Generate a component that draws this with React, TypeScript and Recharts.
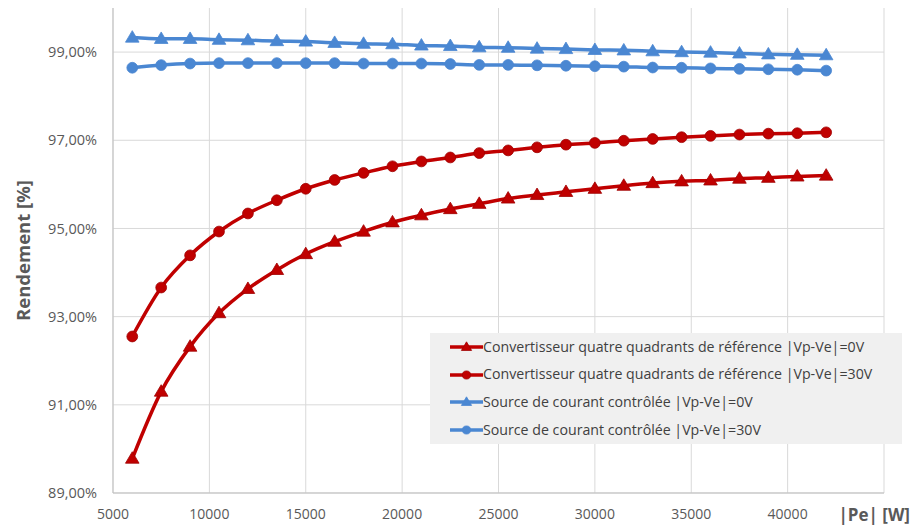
import React from 'react';
import { LineChart, Line, XAxis, YAxis, CartesianGrid, Legend, Label } from 'recharts';

const pe = [6000, 7500, 9000, 10500, 12000, 13500, 15000, 16500, 18000, 19500, 21000, 22500, 24000, 25500, 27000, 28500, 30000, 31500, 33000, 34500, 36000, 37500, 39000, 40500, 42000];
const cqq0 = [89.78, 91.30, 92.32, 93.08, 93.63, 94.06, 94.42, 94.70, 94.93, 95.14, 95.30, 95.44, 95.56, 95.68, 95.76, 95.83, 95.90, 95.97, 96.03, 96.07, 96.09, 96.13, 96.15, 96.18, 96.20];
const cqq30 = [92.55, 93.66, 94.39, 94.93, 95.34, 95.64, 95.90, 96.10, 96.26, 96.41, 96.52, 96.61, 96.71, 96.77, 96.84, 96.90, 96.94, 96.99, 97.03, 97.07, 97.10, 97.13, 97.15, 97.16, 97.18];
const scc0 = [99.33, 99.30, 99.30, 99.28, 99.27, 99.25, 99.24, 99.21, 99.19, 99.18, 99.15, 99.14, 99.11, 99.10, 99.08, 99.07, 99.05, 99.04, 99.02, 99.00, 98.99, 98.97, 98.95, 98.94, 98.93];
const scc30 = [98.645, 98.705, 98.74, 98.75, 98.75, 98.75, 98.75, 98.75, 98.74, 98.74, 98.74, 98.73, 98.71, 98.71, 98.70, 98.69, 98.68, 98.67, 98.65, 98.645, 98.63, 98.62, 98.61, 98.60, 98.58];

const xTicks = [5000, 10000, 15000, 20000, 25000, 30000, 35000, 40000, 45000];
const yTicks = [89, 91, 93, 95, 97, 99];

const seriesNames = [
  'Convertisseur quatre quadrants de référence |Vp-Ve|=0V',
  'Convertisseur quatre quadrants de référence |Vp-Ve|=30V',
  'Source de courant contrôlée |Vp-Ve|=0V',
  'Source de courant contrôlée |Vp-Ve|=30V',
];

const RED = '#C00000';
const RED_DARK = '#A00000';
const BLUE = '#4A87D2';
const FONT = '"Open Sans", "Noto Sans", sans-serif';

const data = pe.map((p, i) => ({ pe: p, cqq0: cqq0[i], cqq30: cqq30[i], scc0: scc0[i], scc30: scc30[i] }));

const series = [
  { key: 'cqq0', name: seriesNames[0], color: RED, stroke: RED_DARK, shape: 'triangle' },
  { key: 'cqq30', name: seriesNames[1], color: RED, stroke: RED_DARK, shape: 'circle' },
  { key: 'scc0', name: seriesNames[2], color: BLUE, stroke: BLUE, shape: 'triangle' },
  { key: 'scc30', name: seriesNames[3], color: BLUE, stroke: BLUE, shape: 'circle' },
];

const Marker = ({ cx, cy, shape, color, stroke, size = 1 }: any) => {
  if (cx == null || cy == null) return null;
  if (shape === 'triangle') {
    const w = 6.8 * size, h = 11.5 * size;
    const pts = `${cx},${cy - h * 0.6} ${cx - w},${cy + h * 0.4} ${cx + w},${cy + h * 0.4}`;
    return <polygon points={pts} fill={color} stroke={stroke} strokeWidth={0.8} />;
  }
  return <circle cx={cx} cy={cy} r={5.4 * size} fill={color} stroke={stroke} strokeWidth={0.8} />;
};

const XTick = (props: any) => {
  const { x, y, payload } = props;
  if (payload.value === 45000) {
    return (
      <text x={x + 26} y={y} dy="0.71em" textAnchor="end" fill="#595959" fontSize={17} fontWeight="bold" fontFamily={FONT}>
        |Pe| [W]
      </text>
    );
  }
  return (
    <text x={x} y={y} dy="0.71em" textAnchor="middle" fill="#595959" fontSize={14} fontFamily={FONT}>
      {payload.value}
    </text>
  );
};

const LegendBox = () => (
  <div style={{ background: '#F0F0F0', width: 472, boxSizing: 'border-box', paddingLeft: 20, fontFamily: FONT }}>
    {series.map((s) => (
      <div key={s.key} style={{ height: 27.7, display: 'flex', alignItems: 'center' }}>
        <svg width={33} height={16} style={{ flex: 'none' }}>
          <line x1={0} y1={8} x2={33} y2={8} stroke={s.color} strokeWidth={3.5} />
          <Marker cx={16.5} cy={8} shape={s.shape} color={s.color} stroke={s.stroke} size={0.75} />
        </svg>
        <span style={{ fontSize: 14.2, color: '#404040', whiteSpace: 'nowrap', lineHeight: 1 }}>{s.name}</span>
      </div>
    ))}
  </div>
);

export default function App() {
  return (
    <div style={{ position: 'absolute', left: 0, top: 0, width: 912, height: 527, background: '#fff' }}>
      <LineChart width={912} height={527} data={data} margin={{ top: 8, right: 28, bottom: 0, left: 0 }}>
        <CartesianGrid stroke="#D9D9D9" strokeWidth={1} horizontalValues={yTicks} verticalValues={xTicks} />
        <XAxis
          dataKey="pe"
          type="number"
          domain={[5000, 45000]}
          ticks={xTicks}
          interval={0}
          height={34}
          tickSize={0}
          tickMargin={16}
          axisLine={{ stroke: '#BFBFBF' }}
          tickLine={false}
          tick={<XTick />}
        />
        <YAxis
          type="number"
          domain={[89, 100]}
          ticks={yTicks}
          interval={0}
          width={113}
          tickSize={0}
          tickMargin={16}
          axisLine={{ stroke: '#BFBFBF' }}
          tickLine={false}
          tick={{ fill: '#595959', fontSize: 14.5, fontFamily: FONT }}
          tickFormatter={(v: number) => v.toFixed(2).replace('.', ',') + '%'}
        >
          <Label value="Rendement [%]" angle={-90} position="center" dx={-33} fill="#595959" fontSize={18.5} fontWeight="bold" fontFamily={FONT} />
        </YAxis>
        {series.map((s) => (
          <Line
            key={s.key}
            dataKey={s.key}
            name={s.name}
            type="monotone"
            stroke={s.color}
            strokeWidth={3.5}
            isAnimationActive={false}
            dot={(p: any) => <Marker key={p.index} cx={p.cx} cy={p.cy} shape={s.shape} color={s.color} stroke={s.stroke} />}
            activeDot={false}
          />
        ))}
        <Legend
          layout="vertical"
          align="center"
          verticalAlign="middle"
          wrapperStyle={{ left: 430, top: 333, width: 472 }}
          content={<LegendBox />}
        />
      </LineChart>
    </div>
  );
}
